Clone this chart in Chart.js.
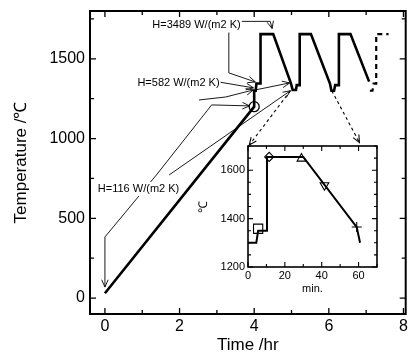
<!DOCTYPE html>
<html><head><meta charset="utf-8">
<script src="https://cdn.jsdelivr.net/npm/chart.js@4.4.1/dist/chart.umd.min.js"></script>
<style>
html,body{margin:0;padding:0;background:#fff;}
#wrap{position:relative;width:412px;height:356px;overflow:hidden;}
#main{position:absolute;left:0;top:0;}
#inset{position:absolute;left:196px;top:136px;}
</style></head><body>
<div id="wrap">
<canvas id="main" width="412" height="356"></canvas>
<canvas id="inset" width="190" height="160"></canvas>
</div>
<script>
// ---------- main chart data (time in hours, temperature in °C) ----------
const mainTime = [0, 4.0, 4.0, 4.04, 4.06, 4.17, 4.17, 4.51, 4.98, 5.03, 5.12, 5.14, 5.22, 5.22, 5.52, 6.03, 6.07, 6.14, 6.17, 6.27, 6.27, 6.58, 7.08];
const mainTemp = [30, 1200, 1300, 1300, 1345, 1345, 1655, 1655, 1350, 1305, 1305, 1335, 1335, 1655, 1655, 1345, 1300, 1300, 1335, 1335, 1655, 1655, 1357];
const dashTime = [7.1, 7.17, 7.2, 7.27, 7.27, 7.6];
const dashTemp = [1300, 1300, 1345, 1345, 1655, 1655];
const circleTime = [4.0];
const circleTemp = [1200];
const xTicks = [0, 1, 2, 3, 4, 5, 6, 7, 8];
const xTickLabels = ['0', '', '2', '', '4', '', '6', '', '8'];
const yTicks = [0, 250, 500, 750, 1000, 1250, 1500, 1750];
const yTickLabels = ['0', '', '500', '', '1000', '', '1500', ''];

// ---------- inset data (time in minutes, temperature in °C) ----------
const insetMin = [0, 4.5, 5.5, 10.3, 10.3, 30, 59, 60.8];
const insetTemp = [1300, 1300, 1350, 1350, 1655, 1655, 1365, 1300];
const insetMarkMin = [5.5, 11.5, 29, 41.5, 59];
const insetMarkTemp = [1358, 1655, 1648, 1538, 1365];
const insetXTicks = [0, 10, 20, 30, 40, 50, 60, 70];
const insetXTickLabels = ['0', '', '20', '', '40', '', '60', ''];
const insetYTicks = [1200, 1250, 1300, 1350, 1400, 1450, 1500, 1550, 1600, 1650, 1700];
const insetYTickLabels = ['1200', '', '', '', '1400', '', '', '', '1600', '', ''];

// ---------- annotations (in data units: hours, °C) ----------
const annoLabels = ['H=3489 W/(m2 K)', 'H=582 W/(m2 K)', 'H=116 W/(m2 K)'];
const annoLabelTime = [1.27, 0.87, -0.19];
const annoLabelTemp = [1713, 1349, 684];
const arrowA1 = [[3.66, 1735], [4.43, 1735], [4.48, 1690]];
const arrowA2 = [[3.32, 1665], [3.32, 1412], [4.03, 1355]];
const arrowB1 = [[3.05, 1355], [3.98, 1318]];
const arrowB2 = [[2.52, 1242], [3.24, 1261], [3.98, 1305]];
const arrowB3 = [[4.03, 1305], [4.95, 1349]];
const arrowC1 = [[0.0, 383], [0.0, 69]];
const arrowC2 = [[0.0, 383], [1.38, 772], [2.86, 1211], [3.88, 1205]];
const arrowC3 = [[1.72, 772], [4.97, 1300]];
const arrowD1 = [[4.97, 1300], [3.87, 960]];
const arrowD2 = [[6.08, 1300], [6.82, 975]];
const solidArrows = [arrowA1, arrowA2, arrowB1, arrowB2, arrowB3, arrowC1, arrowC2, arrowC3];
const dashedArrows = [arrowD1, arrowD2];

const FONT = "'Liberation Sans', Arial, sans-serif";

function pts(xs, ys) { return xs.map((x, i) => ({x: x, y: ys[i]})); }

const framePlugin = {
  id: 'frame',
  afterDraw(chart, args, opts) {
    const ctx = chart.ctx, a = chart.chartArea;
    const xs = chart.scales.x, ys = chart.scales.y;
    ctx.save();
    ctx.strokeStyle = '#000';
    ctx.lineWidth = opts.tickWidth;
    ctx.beginPath();
    xs.ticks.forEach(t => {
      const p = xs.getPixelForValue(t.value);
      const L = t.label !== '' ? opts.major : opts.minor;
      ctx.moveTo(p, a.bottom); ctx.lineTo(p, a.bottom - L);
      ctx.moveTo(p, a.top); ctx.lineTo(p, a.top + L);
    });
    ys.ticks.forEach(t => {
      const p = ys.getPixelForValue(t.value);
      const L = t.label !== '' ? opts.major : opts.minor;
      ctx.moveTo(a.left, p); ctx.lineTo(a.left + L, p);
      ctx.moveTo(a.right, p); ctx.lineTo(a.right - L, p);
    });
    ctx.stroke();
    ctx.lineWidth = opts.lw;
    ctx.strokeRect(a.left, a.top, a.right - a.left, a.bottom - a.top);
    ctx.restore();
  }
};

function drawArrow(ctx, chart, list, dashed) {
  const xs = chart.scales.x, ys = chart.scales.y;
  const p = list.map(q => [xs.getPixelForValue(q[0]), ys.getPixelForValue(q[1])]);
  ctx.setLineDash(dashed ? [3, 3] : []);
  ctx.beginPath();
  ctx.moveTo(p[0][0], p[0][1]);
  for (let i = 1; i < p.length; i++) ctx.lineTo(p[i][0], p[i][1]);
  ctx.stroke();
  ctx.setLineDash([]);
  const e = p[p.length - 1], s = p[p.length - 2];
  const ang = Math.atan2(e[1] - s[1], e[0] - s[0]);
  const L = 8, w = 0.42;
  ctx.beginPath();
  ctx.moveTo(e[0] - L * Math.cos(ang - w), e[1] - L * Math.sin(ang - w));
  ctx.lineTo(e[0], e[1]);
  ctx.lineTo(e[0] - L * Math.cos(ang + w), e[1] - L * Math.sin(ang + w));
  ctx.stroke();
}

const annoPlugin = {
  id: 'anno',
  beforeDatasetsDraw(chart) {
    const ctx = chart.ctx;
    const xs = chart.scales.x, ys = chart.scales.y;
    ctx.save();
    ctx.strokeStyle = '#000';
    ctx.lineWidth = 0.9;
    solidArrows.forEach(l => drawArrow(ctx, chart, l, false));
    ctx.lineWidth = 1.1;
    dashedArrows.forEach(l => drawArrow(ctx, chart, l, true));
    ctx.font = '11px ' + FONT;
    ctx.textBaseline = 'middle';
    ctx.textAlign = 'left';
    annoLabels.forEach((t, i) => {
      const x = xs.getPixelForValue(annoLabelTime[i]);
      const y = ys.getPixelForValue(annoLabelTemp[i]);
      const w = ctx.measureText(t).width;
      ctx.fillStyle = '#fff';
      ctx.fillRect(x - 1, y - 7, w + 2, 14);
      ctx.fillStyle = '#000';
      ctx.fillText(t, x, y);
    });
    ctx.restore();
  }
};

new Chart(document.getElementById('main'), {
  type: 'scatter',
  data: {
    datasets: [
      {data: pts(mainTime, mainTemp), showLine: true, borderColor: '#000', borderWidth: 2.6, pointRadius: 0, tension: 0},
      {data: pts(dashTime, dashTemp), showLine: true, borderColor: '#000', borderWidth: 2.2, borderDash: [5, 4], pointRadius: 0, tension: 0},
      {data: pts(circleTime, circleTemp), showLine: false, pointStyle: 'circle', pointRadius: 5, borderColor: '#000', borderWidth: 1.3, backgroundColor: 'rgba(0,0,0,0)'}
    ]
  },
  options: {
    responsive: false, animation: false, devicePixelRatio: 1,
    layout: {padding: {left: 0, top: 11, right: 3, bottom: 0}},
    plugins: {legend: {display: false}, tooltip: {enabled: false},
      frame: {lw: 2, tickWidth: 1.3, major: 6, minor: 4}},
    scales: {
      x: {
        type: 'linear', min: -0.4, max: 8.06,
        afterBuildTicks: s => { s.ticks = xTicks.map(v => ({value: v})); },
        afterFit: s => { s.height = 42; s.paddingLeft = 0; s.paddingRight = 0; },
        grid: {display: false, drawTicks: false}, border: {display: false},
        ticks: {autoSkip: false, maxRotation: 0, padding: 3, color: '#000',
          font: {family: FONT, size: 16}, callback: (v, i) => xTickLabels[i]},
        title: {display: true, text: 'Time /hr', color: '#000', font: {family: FONT, size: 17}, padding: {top: 0, bottom: 0}}
      },
      y: {
        type: 'linear', min: -100, max: 1800,
        afterBuildTicks: s => { s.ticks = yTicks.map(v => ({value: v})); },
        afterFit: s => { s.width = 90; s.paddingTop = 0; s.paddingBottom = 0; },
        grid: {display: false, drawTicks: false}, border: {display: false},
        ticks: {autoSkip: false, padding: 5, color: '#000',
          font: {family: FONT, size: 16}, callback: (v, i) => yTickLabels[i]},
        title: {display: true, text: 'Temperature /℃', color: '#000', font: {family: FONT, size: 17}, padding: {top: 11, bottom: 0}}
      }
    }
  },
  plugins: [framePlugin, annoPlugin]
});

const whitePlugin = {
  id: 'white',
  beforeDraw(chart) {
    const a = chart.chartArea, ctx = chart.ctx;
    ctx.save(); ctx.fillStyle = '#fff';
    ctx.fillRect(a.left, a.top, a.right - a.left, a.bottom - a.top);
    ctx.restore();
  }
};

new Chart(document.getElementById('inset'), {
  type: 'scatter',
  data: {
    datasets: [
      {data: pts(insetMin, insetTemp), showLine: true, borderColor: '#000', borderWidth: 2, pointRadius: 0, tension: 0},
      {data: pts(insetMarkMin, insetMarkTemp), showLine: false,
        pointStyle: ['rect', 'rectRot', 'triangle', 'triangle', 'cross'],
        rotation: [0, 0, 0, 180, 0],
        pointRadius: [6.5, 4.5, 5, 5, 5],
        borderColor: '#000', borderWidth: 1.1, backgroundColor: 'rgba(0,0,0,0)'}
    ]
  },
  options: {
    responsive: false, animation: false, devicePixelRatio: 1,
    layout: {padding: {left: 0, top: 10, right: 9, bottom: 0}},
    plugins: {legend: {display: false}, tooltip: {enabled: false},
      frame: {lw: 1.6, tickWidth: 1.1, major: 5, minor: 3}},
    scales: {
      x: {
        type: 'linear', min: 0, max: 70,
        afterBuildTicks: s => { s.ticks = insetXTicks.map(v => ({value: v})); },
        afterFit: s => { s.height = 29; s.paddingLeft = 0; s.paddingRight = 0; },
        grid: {display: false, drawTicks: false}, border: {display: false},
        ticks: {autoSkip: false, maxRotation: 0, padding: 2, color: '#000',
          font: {family: FONT, size: 11}, callback: (v, i) => insetXTickLabels[i]},
        title: {display: true, text: 'min.', color: '#000', font: {family: FONT, size: 11}, padding: {top: 0, bottom: 0}}
      },
      y: {
        type: 'linear', min: 1200, max: 1700,
        afterBuildTicks: s => { s.ticks = insetYTicks.map(v => ({value: v})); },
        afterFit: s => { s.width = 52; s.paddingTop = 0; s.paddingBottom = 0; },
        grid: {display: false, drawTicks: false}, border: {display: false},
        ticks: {autoSkip: false, padding: 3, color: '#000',
          font: {family: FONT, size: 11}, callback: (v, i) => insetYTickLabels[i]},
        title: {display: true, text: '℃', color: '#000', font: {family: FONT, size: 12}, padding: {top: 0, bottom: 0}}
      }
    }
  },
  plugins: [whitePlugin, framePlugin]
});
</script>
</body></html>
